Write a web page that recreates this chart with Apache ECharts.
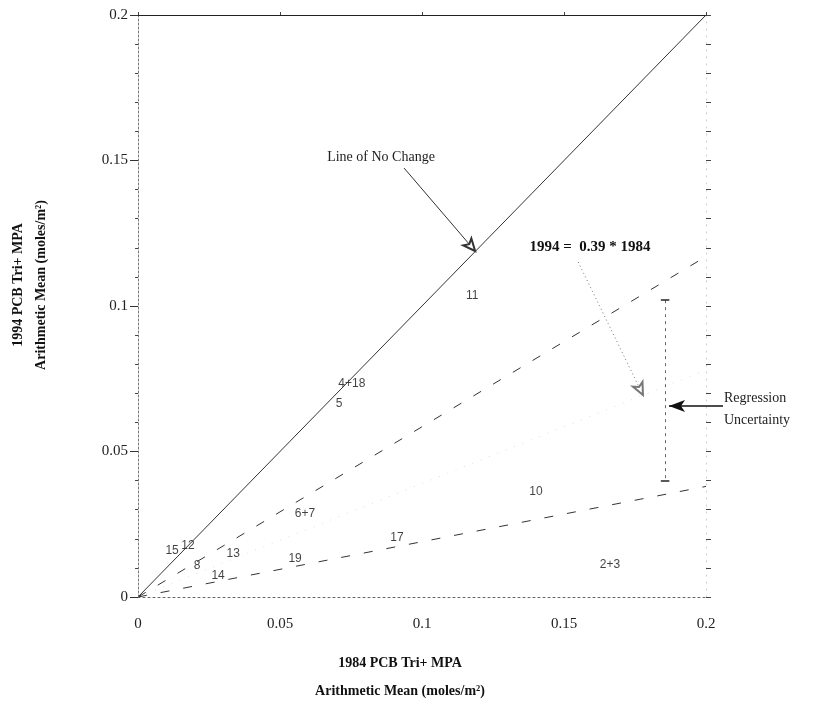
<!DOCTYPE html>
<html>
<head>
<meta charset="utf-8">
<script src="https://cdn.jsdelivr.net/npm/echarts@6/dist/echarts.min.js"></script>
<style>
  html, body { margin: 0; padding: 0; background: #fff; }
  #main { width: 816px; height: 728px; }
</style>
</head>
<body>
<div id="main"></div>
<script>
// station labels and their 1984 / 1994 means (moles/m2)
var stationNames = ['11', '4+18', '5', '6+7', '15', '12', '8', '13', '14', '19', '17', '10', '2+3'];
var mean1984 = [0.1177, 0.0753, 0.0708, 0.0588, 0.0120, 0.0176, 0.0208, 0.0335, 0.0282, 0.0553, 0.0912, 0.1401, 0.1662];
var mean1994 = [0.1034, 0.0732, 0.0663, 0.0285, 0.0158, 0.0175, 0.0107, 0.0148, 0.0072, 0.0131, 0.0203, 0.0361, 0.0110];

// reference lines (end points)
var noChangeLine = [[0, 0], [0.2, 0.2]];
var upperBand = [[0, 0], [0.2, 0.117]];
var regressionLine = [[0, 0], [0.2, 0.078]];
var lowerBand = [[0, 0], [0.2, 0.038]];

// uncertainty bar at x = 0.1856
var barX = 0.1856;
var barTop = 0.102;
var barBottom = 0.040;

var serif = '"Liberation Serif", "DejaVu Serif", serif';

var stationData = stationNames.map(function (n, i) {
    return { name: n, value: [mean1984[i], mean1994[i]] };
});

var chart = echarts.init(document.getElementById('main'), null, { renderer: 'canvas' });

var option = {
    backgroundColor: '#fff',
    animation: false,
    grid: { left: 138, right: 110, top: 15, bottom: 131 },
    xAxis: [{
        type: 'value', min: 0, max: 0.2, interval: 0.05, position: 'bottom',
        axisLine: { show: true, onZero: false, lineStyle: { color: '#666', width: 1, type: [2, 3] } },
        axisTick: { show: false },
        minorTick: { show: false },
        splitLine: { show: false },
        axisLabel: { margin: 20, color: '#222', fontFamily: serif, fontSize: 15 }
    }, {
        type: 'value', min: 0, max: 0.2, interval: 0.05, position: 'top',
        axisLine: { show: true, onZero: false, lineStyle: { color: '#222', width: 1.2 } },
        axisTick: { show: true, inside: false, length: 3, lineStyle: { color: '#444' } },
        minorTick: { show: false },
        splitLine: { show: false },
        axisLabel: { show: false }
    }],
    yAxis: [{
        type: 'value', min: 0, max: 0.2, interval: 0.05, position: 'left',
        axisLine: { show: true, onZero: false, lineStyle: { color: '#777', width: 1, type: [2, 2] } },
        axisTick: { show: true, length: 8, lineStyle: { color: '#333' } },
        minorTick: { show: true, splitNumber: 5, length: 3, lineStyle: { color: '#444' } },
        splitLine: { show: false },
        axisLabel: { margin: 10, color: '#222', fontFamily: serif, fontSize: 15 }
    }, {
        type: 'value', min: 0, max: 0.2, interval: 0.05, position: 'right',
        axisLine: { show: true, onZero: false, lineStyle: { color: '#ccc', width: 1, type: [1, 6] } },
        axisTick: { show: true, length: 5, lineStyle: { color: '#444' } },
        minorTick: { show: true, splitNumber: 5, length: 5, lineStyle: { color: '#444' } },
        splitLine: { show: false },
        axisLabel: { show: false }
    }],
    graphic: [
        {
            type: 'text', x: 400, y: 663,
            style: { text: '1984 PCB Tri+ MPA', font: 'bold 14px ' + serif, fill: '#111', align: 'center', verticalAlign: 'middle' }
        },
        {
            type: 'text', x: 400, y: 691,
            style: { text: 'Arithmetic Mean (moles/m²)', font: 'bold 14px ' + serif, fill: '#111', align: 'center', verticalAlign: 'middle' }
        },
        {
            type: 'text', x: 18, y: 285, rotation: Math.PI / 2,
            style: { text: '1994 PCB Tri+ MPA', font: 'bold 14px ' + serif, fill: '#111', align: 'center', verticalAlign: 'middle' }
        },
        {
            type: 'text', x: 41, y: 285, rotation: Math.PI / 2,
            style: { text: 'Arithmetic Mean (moles/m²)', font: 'bold 14px ' + serif, fill: '#111', align: 'center', verticalAlign: 'middle' }
        },
        {
            type: 'text', x: 381, y: 157,
            style: { text: 'Line of No Change', font: '14px ' + serif, fill: '#222', align: 'center', verticalAlign: 'middle' }
        },
        {
            type: 'text', x: 590, y: 247,
            style: { text: '1994 =  0.39 * 1984', font: 'bold 15px ' + serif, fill: '#111', align: 'center', verticalAlign: 'middle' }
        },
        {
            type: 'text', x: 724, y: 398,
            style: { text: 'Regression', font: '14px ' + serif, fill: '#222', align: 'left', verticalAlign: 'middle' }
        },
        {
            type: 'text', x: 724, y: 420,
            style: { text: 'Uncertainty', font: '14px ' + serif, fill: '#222', align: 'left', verticalAlign: 'middle' }
        }
    ],
    series: [
        {
            name: 'No change', type: 'line', data: noChangeLine, symbol: 'none',
            lineStyle: { color: '#333', width: 1 }, silent: true
        },
        {
            name: 'Upper', type: 'line', data: upperBand, symbol: 'none',
            lineStyle: { color: '#333', width: 1, type: [9, 14] }, silent: true
        },
        {
            name: 'Regression', type: 'line', data: regressionLine, symbol: 'none',
            lineStyle: { color: '#ddd', width: 1, type: [1, 8] }, silent: true
        },
        {
            name: 'Lower', type: 'line', data: lowerBand, symbol: 'none',
            lineStyle: { color: '#333', width: 1, type: [9, 14] }, silent: true
        },
        {
            name: 'Stations', type: 'scatter', data: stationData,
            symbolSize: 2, itemStyle: { color: 'rgba(0,0,0,0)' },
            label: {
                show: true, position: 'inside', formatter: '{b}',
                fontFamily: '"Liberation Sans", Arial, sans-serif', fontSize: 12, color: '#111'
            },
            silent: true
        },
        {
            name: 'Notes', type: 'line', data: [], clip: false, silent: true,
            markLine: {
                silent: true, animation: false,
                label: { show: false },
                symbol: ['none', 'none'],
                data: [
                    // Line of No Change pointer
                    [{ coord: [0.0937, 0.1474], symbol: 'none', lineStyle: { color: '#333', width: 1, type: 'solid' } },
                     { coord: [0.1187, 0.1189], symbol: 'emptyArrow', symbolSize: [8, 12] }],
                    // regression equation pointer
                    [{ coord: [0.1550, 0.1151], symbol: 'none', lineStyle: { color: '#777', width: 1, type: [1, 3] } },
                     { coord: [0.1778, 0.0694], symbol: 'emptyArrow', symbolSize: [8, 12] }],
                    // regression uncertainty pointer (label sits outside the plot area)
                    [{ x: 723, y: 406, symbol: 'none', lineStyle: { color: '#111', width: 1.5, type: 'solid' } },
                     { x: 669, y: 406, symbol: 'arrow', symbolSize: [9, 16] }],
                    // uncertainty bar
                    [{ coord: [barX, barTop], symbol: 'none', lineStyle: { color: '#666', width: 1, type: [3, 4] } },
                     { coord: [barX, barBottom], symbol: 'none' }],
                    [{ coord: [barX - 0.0015, barTop], symbol: 'none', lineStyle: { color: '#222', width: 1.5, type: 'solid' } },
                     { coord: [barX + 0.0015, barTop], symbol: 'none' }],
                    [{ coord: [barX - 0.0015, barBottom], symbol: 'none', lineStyle: { color: '#222', width: 1.5, type: 'solid' } },
                     { coord: [barX + 0.0015, barBottom], symbol: 'none' }]
                ]
            }
        }
    ]
};

chart.setOption(option);
</script>
</body>
</html>
